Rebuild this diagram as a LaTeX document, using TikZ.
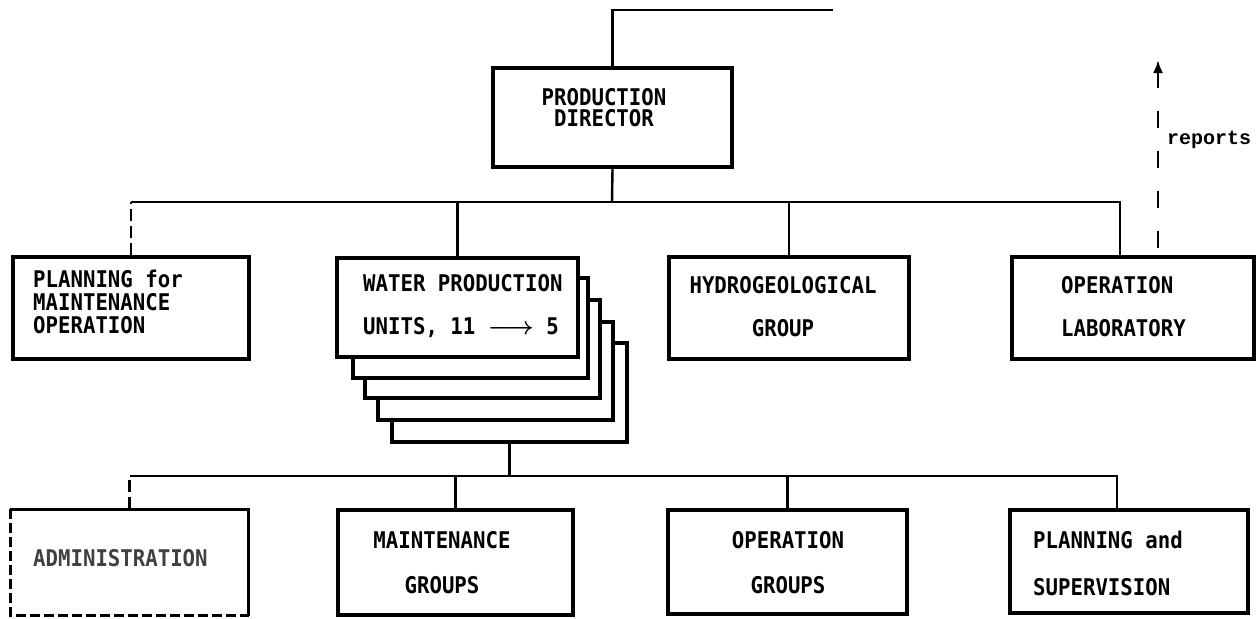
\documentclass[tikz,border=0pt]{standalone}
\usepackage{fontspec}
\usetikzlibrary{arrows.meta}
\newfontfamily\chartfont[FakeStretch=0.9]{DejaVu Sans Mono}
\newfontfamily\repfont{Liberation Mono}
\begin{document}
\begin{tikzpicture}[x=1pt,y=-1pt,
  box/.style={draw, line width=3.5pt, fill=white, inner sep=0pt},
  conn/.style={line width=2.4pt},
  staff/.style={line width=2.4pt, dash pattern=on 12pt off 5pt},
  lbl/.style={font=\chartfont\bfseries\fontsize{23}{21}\selectfont, inner sep=0pt, align=left},
]
\fill[white] (0,0) rectangle (1257,618);
\useasboundingbox (0,0) rectangle (1257,618);

% top
\node[box, minimum width=239pt, minimum height=99pt] (pd) at (612.5,117.5) {};
\node[lbl, align=center] (pdt) at (604,107.5) {PRODUCTION\\DIRECTOR};

% second row
\node[box, minimum width=236pt, minimum height=102pt] (plan) at (131,308) {};
\node[lbl, anchor=west] (plant) at (33,302) {PLANNING for\\[2pt]MAINTENANCE\\[2pt]OPERATION};

\node[box, minimum width=235pt, minimum height=99pt] (c4) at (509.5,392.5) {};
\node[box, minimum width=235pt, minimum height=98pt] (c3) at (495.5,371) {};
\node[box, minimum width=235pt, minimum height=98pt] (c2) at (482.5,349) {};
\node[box, minimum width=235pt, minimum height=100pt] (c1) at (470.5,328) {};
\node[box, minimum width=241pt, minimum height=99pt] (water) at (457.5,307.5) {};
\node[lbl, anchor=west] (watert) at (363,306.5) {WATER PRODUCTION\\[22pt]UNITS, 11 {\boldmath$\longrightarrow$} 5};

\node[box, minimum width=240pt, minimum height=102pt] (hydro) at (789,308) {};
\node[lbl, align=center] (hydrot) at (783,306.5) {HYDROGEOLOGICAL\\[22pt]GROUP};

\node[box, minimum width=242pt, minimum height=102pt] (oplab) at (1133,308) {};
\node[lbl, anchor=west] (oplabt) at (1061,306.5) {OPERATION\\[22pt]LABORATORY};

% bottom row
\node[box, draw=none, minimum width=235pt, minimum height=103pt] (admin) at (129.5,562.5) {};
\draw[line width=2.8pt] (admin.south east) -- (admin.north east) -- (admin.north west);
\draw[line width=2.8pt, dash pattern=on 10pt off 4pt] (admin.north west) -- (admin.south west) -- (admin.south east);
\node[lbl, anchor=west, text=black!75] (admint) at (33,558) {ADMINISTRATION};

\node[box, minimum width=235pt, minimum height=105pt] (maint) at (455.5,562.5) {};
\node[lbl, align=center] (maintt) at (442,562.5) {MAINTENANCE\\[24pt]GROUPS};

\node[box, minimum width=239pt, minimum height=104pt] (opg) at (787.5,562) {};
\node[lbl, align=center] (opgt) at (788,562.5) {OPERATION\\[24pt]GROUPS};

\node[box, minimum width=238pt, minimum height=103pt] (pls) at (1129,561.5) {};
\node[lbl, anchor=west] (plst) at (1033,563.5) {PLANNING and\\[26pt]SUPERVISION};

% connectors, upper level
\coordinate (topend) at (833,10);
\draw[conn] (pd.north) |- (topend);
\coordinate (j1) at (612,202);
\draw[conn] (pd.south) -- (j1);
\coordinate (labin) at ([xshift=-13pt]oplab.north);
\draw[staff] (plan.north) -- (plan.north |- j1);
\draw[conn] (plan.north |- j1) -- (labin |- j1) -- (labin);
\draw[conn] (water.north |- j1) -- (water.north);
\draw[conn] (hydro.north |- j1) -- (hydro.north);

% reports
\coordinate (repin) at ([xshift=25pt]oplab.north);
\coordinate (reptop) at (1158,60);
\draw[line width=2.4pt, dash pattern=on 17pt off 23pt, dash phase=33pt,
  -{Latex[length=13pt,width=10pt]}] (repin) -- (repin |- reptop);
\node[font=\repfont\bfseries\fontsize{20}{20}\selectfont, anchor=west, inner sep=0pt] (rept) at (1167,140) {reports};

% connectors, lower level
\path (c4.south) ++(0,32) coordinate (j2);
\draw[conn] (c4.south) -- (j2);
\coordinate (psin) at ([xshift=-12pt]pls.north);
\draw[staff] (admin.north) -- (admin.north |- j2);
\draw[conn] (admin.north |- j2) -- (psin |- j2) -- (psin);
\draw[conn] (maint.north |- j2) -- (maint.north);
\draw[conn] (opg.north |- j2) -- (opg.north);
\end{tikzpicture}
\end{document}
